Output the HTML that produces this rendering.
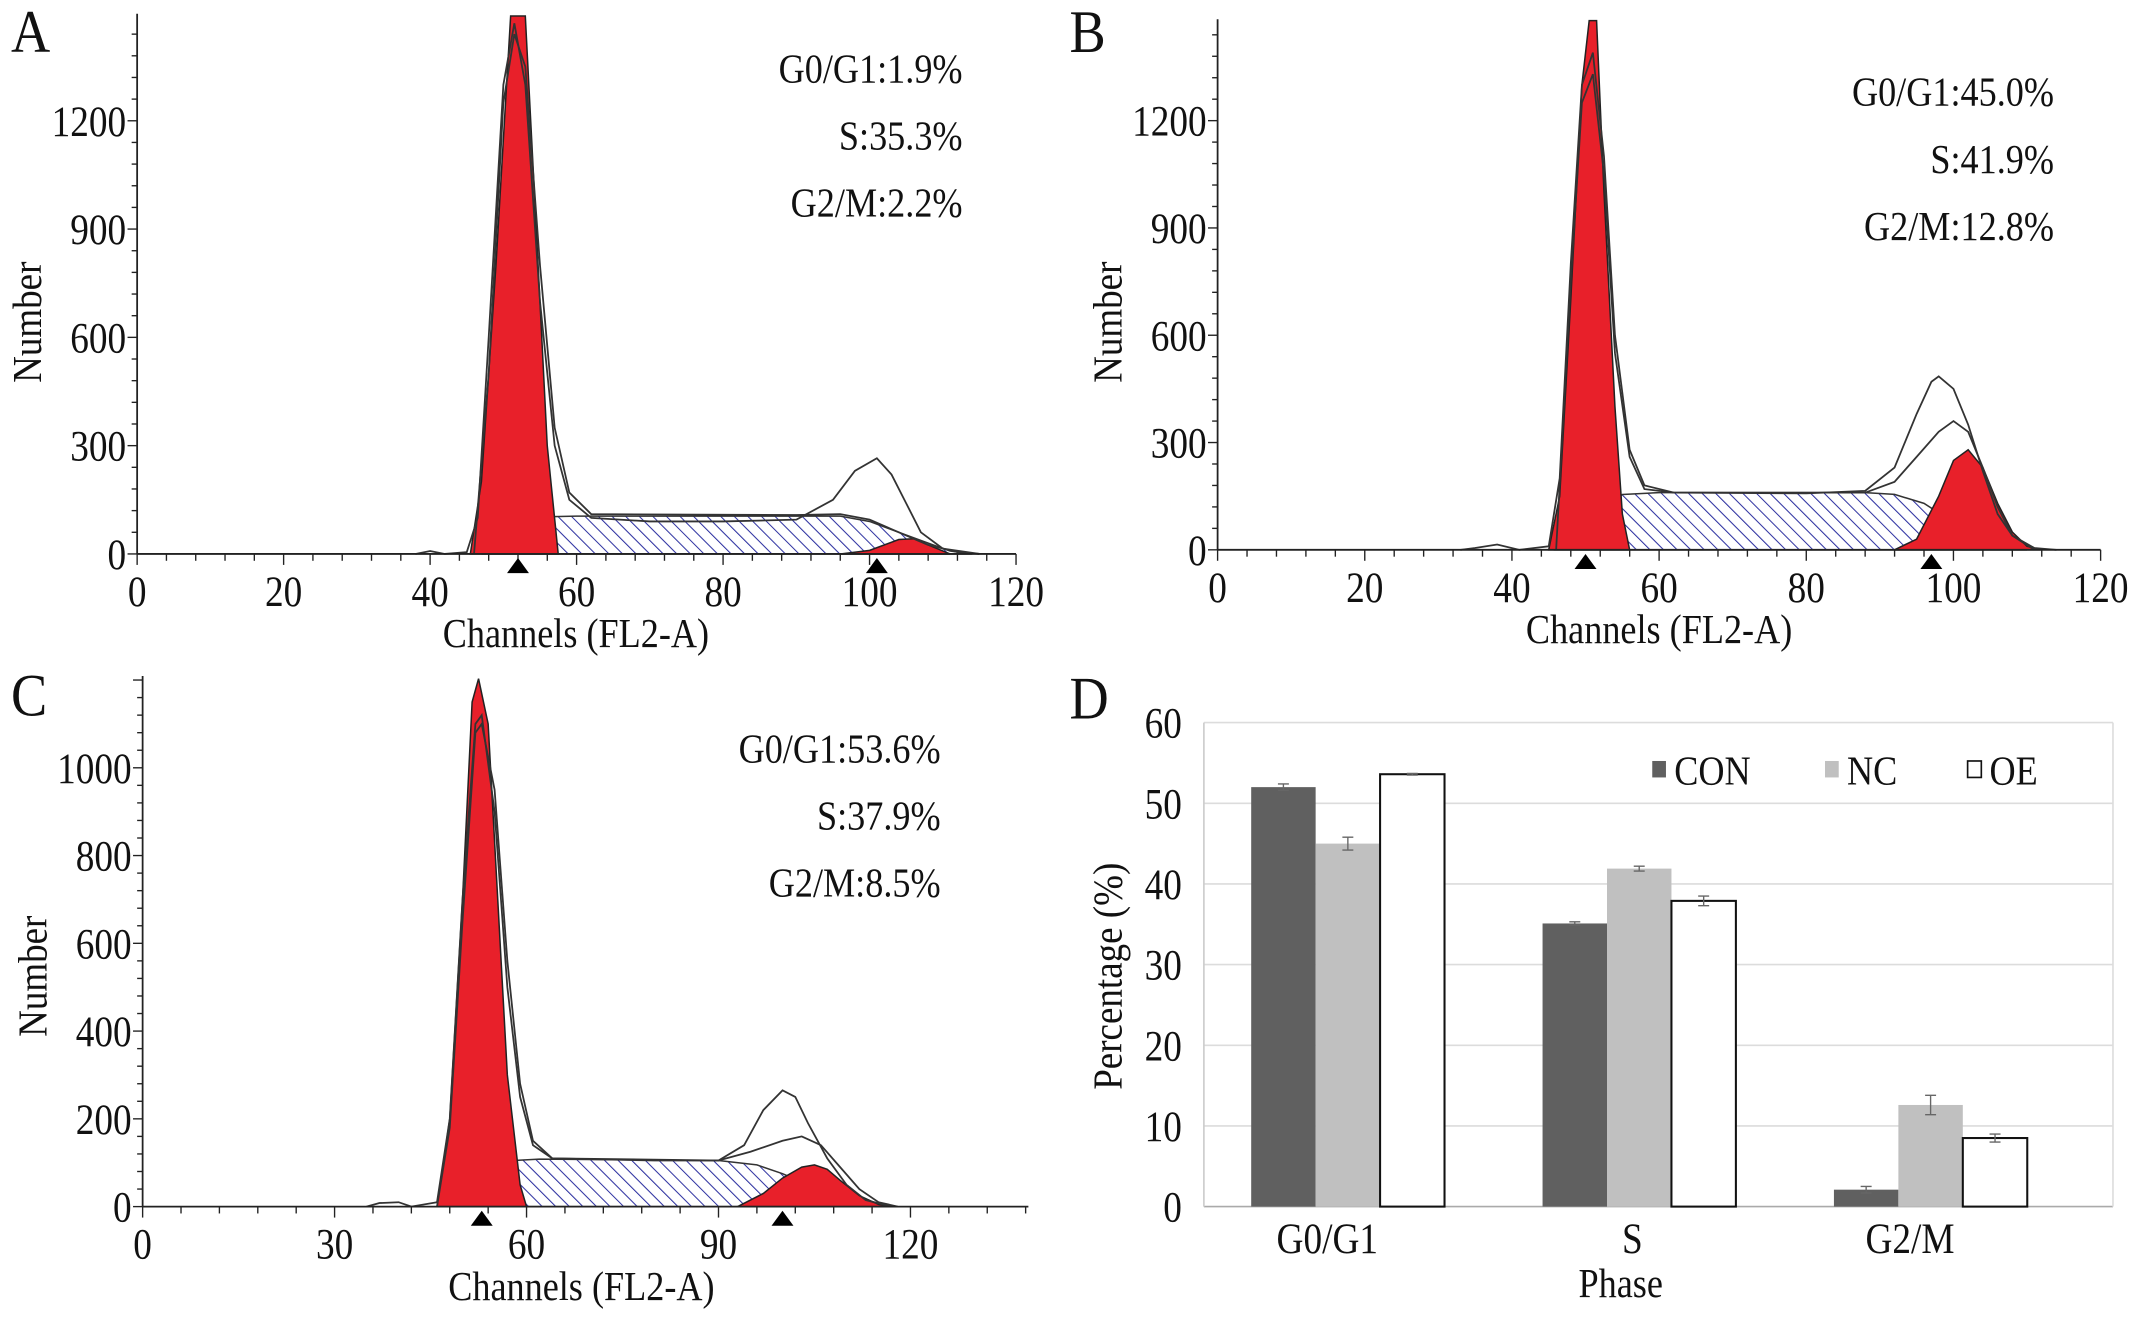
<!DOCTYPE html>
<html><head><meta charset="utf-8"><style>
html,body{margin:0;padding:0;background:#fff;}
svg{display:block;}
text{font-family:"Liberation Serif",serif;fill:#111;}
</style></head><body>
<svg id="fig" width="2150" height="1320" viewBox="0 0 1568 962.7" xmlns="http://www.w3.org/2000/svg">
<defs>
<pattern id="hatch" patternUnits="userSpaceOnUse" width="7" height="7" patternTransform="rotate(-45)">
<rect width="7" height="7" fill="#fff"/><line x1="0" y1="0" x2="0" y2="7" stroke="#2c30a0" stroke-width="1.5"/>
</pattern>
</defs>
</svg>
<script>
// ---------- Panel A data (channel, count) ----------
const aTotal=[[38,0],[40,8],[42,0],[45,5],[46.5,100],[48,600],[50,1300],[51.5,1470],[53,1300],[55,700],[57,300],[59,150],[62,100],[70,90],[80,90],[90,95],[95,150],[98,230],[101,265],[103,220],[105,140],[107,60],[110,15],[115,0]];
const aModel=[[46,0],[48,500],[50,1250],[51.5,1440],[53,1350],[55,800],[57,350],[59,170],[62,110],[90,108],[96,110],[100,95],[104,60],[108,25],[112,5],[115,0]];
const aG1=[[45.5,0],[47,200],[49,800],[51,1490],[53,1490],[54.5,900],[56,300],[57.5,0]];
const aS=[[47,0],[50,30],[53,80],[56,103],[60,105],[90,105],[96,105],[100,90],[104,60],[108,30],[111,8],[114,0]];
const aG2=[[96,0],[100,10],[104,40],[106,42],[108,25],[111,0]];
const aMarks=[52,101];
// ---------- Panel B data ----------
const bTotal=[[33,0],[35,5],[38,15],[41,0],[45,10],[46.5,200],[48,800],[49.5,1300],[51,1390],[52.5,1100],[54,600],[56,280],[58,180],[62,160],[80,158],[88,165],[92,230],[95,380],[97,470],[98,485],[100,450],[102,350],[104,220],[106,100],[108,40],[111,5],[114,0]];
const bModel=[[46,0],[48,750],[49.5,1250],[51,1330],[52.5,1050],[54,550],[56,260],[58,170],[62,160],[88,160],[92,190],[95,260],[98,330],[100,360],[102,330],[104,230],[106,120],[108,40],[111,0]];
const bG1=[[45,0],[46.5,150],[48,700],[49.5,1300],[50.5,1480],[51.5,1480],[52.5,1000],[54,400],[55,100],[56,0]];
const bS=[[46,0],[49,40],[52,110],[55,155],[60,160],[88,160],[92,155],[96,130],[99,90],[103,40],[107,10],[110,0]];
const bG2=[[92,0],[95,30],[98,150],[100,250],[102,280],[104,230],[106,130],[108,50],[110,10],[112,0]];
const bMarks=[50,97];
// ---------- Panel C data ----------
const cTotal=[[35,0],[37,8],[40,10],[42,0],[46,10],[48,200],[50,700],[52,1100],[53,1120],[55,900],[57,500],[59,250],[61,140],[64,110],[80,105],[90,105],[94,140],[97,220],[100,265],[102,250],[104,190],[107,110],[110,50],[113,15],[117,0]];
const cModel=[[46,0],[48,180],[50,650],[52,1080],[53,1100],[55,950],[57,560],[59,280],[61,150],[64,110],[90,105],[95,125],[100,150],[103,160],[106,140],[109,90],[112,40],[115,10],[118,0]];
const cG1=[[46,0],[48,200],[50,700],[51.5,1150],[52.5,1203],[54,1100],[55.5,700],[57,300],[59,50],[60,0]];
const cS=[[47,0],[50,30],[54,80],[58,105],[62,108],[90,105],[96,95],[100,75],[104,50],[108,25],[112,8],[116,0]];
const cG2=[[93,0],[97,30],[100,65],[103,90],[105,95],[107,85],[109,60],[112,25],[115,5],[117,0]];
const cMarks=[53,100];
// ---------- Panel D data ----------
const phases=["G0/G1","S","G2/M"];
const groups=["CON","NC","OE"];
const conVals=[52.0,35.1,2.1];
const ncVals=[45.0,41.9,12.6];
const oeVals=[53.6,37.9,8.5];
const conErr=[0.4,0.2,0.4];
const ncErr=[0.8,0.3,1.2];
const oeErr=[0.1,0.6,0.5];
const dTicks=[0,10,20,30,40,50,60];

const NS="http://www.w3.org/2000/svg";
const svg=document.getElementById('fig');
function mk(tag,attrs,parent){const e=document.createElementNS(NS,tag);for(const k in attrs)e.setAttribute(k,attrs[k]);(parent||svg).appendChild(e);return e;}
function txt(str,x,y,size,anchor,parent,sx){
  const t=mk('text',{transform:`translate(${x},${y}) scale(${sx||0.85},1)`,'font-size':size,'text-anchor':anchor||'middle'},parent);
  t.textContent=str;return t;
}
function pathOf(pts,fx,fy,close){let d='';pts.forEach((p,i)=>{d+=(i?'L':'M')+fx(p[0]).toFixed(1)+','+fy(p[1]).toFixed(1);});return d+(close?'Z':'');}

function hist(cfg){
  const g=mk('g',{});
  
  
  const fx=v=>cfg.x0+(v-cfg.xmin)*(cfg.x1-cfg.x0)/(cfg.xmax-cfg.xmin);
  const fy=v=>cfg.y0-v*(cfg.y0-cfg.yTop)/cfg.ymax;
  const hp=mk('path',{d:pathOf(cfg.s,fx,fy,true),fill:'url(#hatch)',stroke:'#333','stroke-width':1.1},g);
  
  
  const r1=mk('path',{d:pathOf(cfg.g1,fx,fy,true),fill:'#e8202a',stroke:'#222','stroke-width':1.1},g);
  
  
  const r2=mk('path',{d:pathOf(cfg.g2,fx,fy,true),fill:'#e8202a',stroke:'#222','stroke-width':1.1},g);
  
  
  const m=mk('path',{d:pathOf(cfg.model,fx,fy),fill:'none',stroke:'#333','stroke-width':1.3},g);
  
  
  const t=mk('path',{d:pathOf(cfg.total,fx,fy),fill:'none',stroke:'#333','stroke-width':1.3},g);
  
  
  const ax=mk('line',{x1:cfg.x0,y1:cfg.yTop-2,x2:cfg.x0,y2:cfg.y0,stroke:'#222','stroke-width':1.3},g);
  
  
  const bx=mk('line',{x1:cfg.x0,y1:cfg.y0,x2:cfg.xEnd,y2:cfg.y0,stroke:'#222','stroke-width':1.3},g);
  
  
  for(let v=0;v<=cfg.ymaxAxis;v+=cfg.yMinor){const yy=fy(v);if(yy<cfg.yTop-2)break;mk('line',{x1:cfg.x0-(v%cfg.yStep===0?7:4),y1:yy,x2:cfg.x0,y2:yy,stroke:'#222','stroke-width':1},g);}
  cfg.yTicks.forEach(v=>{const l=txt(String(v),cfg.x0-8,fy(v)+11,32,'end',g);});
  for(let v=cfg.xmin;fx(v)<=cfg.xEnd+0.5;v+=cfg.xMinor){mk('line',{x1:fx(v),y1:cfg.y0,x2:fx(v),y2:cfg.y0+(v%cfg.xStep===0?8:5),stroke:'#222','stroke-width':1},g);}
  cfg.xTicks.forEach(v=>{const l=txt(String(v),fx(v),cfg.y0+38,32,'middle',g);});
  cfg.marks.forEach(v=>{const p=mk('path',{d:`M${fx(v)-8},${cfg.y0+14}L${fx(v)},${cfg.y0+3}L${fx(v)+8},${cfg.y0+14}Z`,fill:'#000'},g);});
  const xl=txt('Channels (FL2-A)',cfg.xLabelX,cfg.y0+68,30,'middle',g,0.88);
  
  
  const yl=mk('text',{transform:`translate(${cfg.x0-70},${cfg.yLabelY}) rotate(-90) scale(0.9,1)`,'font-size':30,'text-anchor':'middle'},g);
  yl.textContent='Number';
  
  
  const pl=txt(cfg.letter,cfg.letterX,cfg.letterY,44,'start',g,0.9);
  
  
  cfg.ann.forEach((s,i)=>{const a=txt(s,cfg.annX,cfg.annY+i*49,30,'end',g,0.88);});
}

hist({name:'panel-a-histogram',x0:100,x1:741,xmin:0,xmax:120,xEnd:741,y0:404,yTop:12,ymax:1489,ymaxAxis:1500,yStep:300,yMinor:60,yTicks:[0,300,600,900,1200],xTicks:[0,20,40,60,80,100,120],xStep:20,xMinor:4,
 total:aTotal,model:aModel,g1:aG1,s:aS,g2:aG2,marks:aMarks,xLabelX:420,yLabelY:235,letter:'A',letterX:8,letterY:38,ann:['G0/G1:1.9%','S:35.3%','G2/M:2.2%'],annX:702,annY:60});
hist({name:'panel-b-histogram',x0:888,x1:1532,xmin:0,xmax:120,xEnd:1532,y0:401,yTop:16,ymax:1476,ymaxAxis:1500,yStep:300,yMinor:60,yTicks:[0,300,600,900,1200],xTicks:[0,20,40,60,80,100,120],xStep:20,xMinor:4,
 total:bTotal,model:bModel,g1:bG1,s:bS,g2:bG2,marks:bMarks,xLabelX:1210,yLabelY:235,letter:'B',letterX:780,letterY:38,ann:['G0/G1:45.0%','S:41.9%','G2/M:12.8%'],annX:1498,annY:77});
hist({name:'panel-c-histogram',x0:104,x1:664,xmin:0,xmax:120,xEnd:750,y0:880,yTop:495,ymax:1203,ymaxAxis:1200,yStep:200,yMinor:40,yTicks:[0,200,400,600,800,1000],xTicks:[0,30,60,90,120],xStep:30,xMinor:6,
 total:cTotal,model:cModel,g1:cG1,s:cS,g2:cG2,marks:cMarks,xLabelX:424,yLabelY:712,letter:'C',letterX:8,letterY:522,ann:['G0/G1:53.6%','S:37.9%','G2/M:8.5%'],annX:686,annY:556});

// ---------- Panel D ----------
(function(){
  const g=mk('g',{});
  
  
  const L=878,R=1541,Y0=880,YT=527,ymax=60;
  const fy=v=>Y0-v*(Y0-YT)/ymax;
  const groupW=212.5,c0=983,barW=47;
  dTicks.forEach(v=>{
    const gl=mk('line',{x1:L,y1:fy(v),x2:R,y2:fy(v),stroke:v===0?'#aaa':'#dcdcdc','stroke-width':1.2},g);
    
    
    const l=txt(String(v),L-16,fy(v)+11,32,'end',g);
    
    
  });
  mk('line',{x1:L,y1:YT,x2:L,y2:Y0,stroke:'#ccc','stroke-width':1.2},g);
  mk('line',{x1:R,y1:YT,x2:R,y2:Y0,stroke:'#ddd','stroke-width':1.2},g);
  const series=[[conVals,conErr,'#606060','none','bar-con'],[ncVals,ncErr,'#c0c0c0','none','bar-nc'],[oeVals,oeErr,'#ffffff','#111','bar-oe']];
  phases.forEach((p,i)=>{
    const cx=c0+i*groupW;
    series.forEach((s,j)=>{
      const x=cx-1.5*barW+j*barW,v=s[0][i],e=s[1][i];
      const b=mk('rect',{x:x,y:fy(v),width:barW,height:Y0-fy(v),fill:s[2],stroke:s[3],'stroke-width':1.5},g);
      
      
      const ex=x+barW/2;
      const eb=mk('path',{d:`M${ex},${fy(v+e)}L${ex},${fy(v-e)}M${ex-4},${fy(v+e)}L${ex+4},${fy(v+e)}M${ex-4},${fy(v-e)}L${ex+4},${fy(v-e)}`,stroke:'#666','stroke-width':1,fill:'none'},g);
      
      
    });
    const cl=txt(p,cx-15+(i===1?10:0),Y0+34,32,'middle',g);
    
    
  });
  const legX=[1205,1331,1435],colors=['#606060','#c0c0c0','#fff'];
  groups.forEach((n,j)=>{
    const lg=mk('g',{},g);
    
    
    mk('rect',{x:legX[j],y:555,width:10,height:12,fill:colors[j],stroke:j===2?'#111':'none','stroke-width':1.2},lg);
    txt(n,legX[j]+16,572,30,'start',lg,0.88);
  });
  const yt=mk('text',{transform:`translate(818,712) rotate(-90) scale(0.9,1)`,'font-size':30,'text-anchor':'middle'},g);
  yt.textContent='Percentage (%)';
  
  
  const xt=txt('Phase',1182,946,30,'middle',g,0.88);
  
  
  const pl=txt('D',780,524,44,'start',g,0.9);
  
  
})();
</script>
</body></html>
